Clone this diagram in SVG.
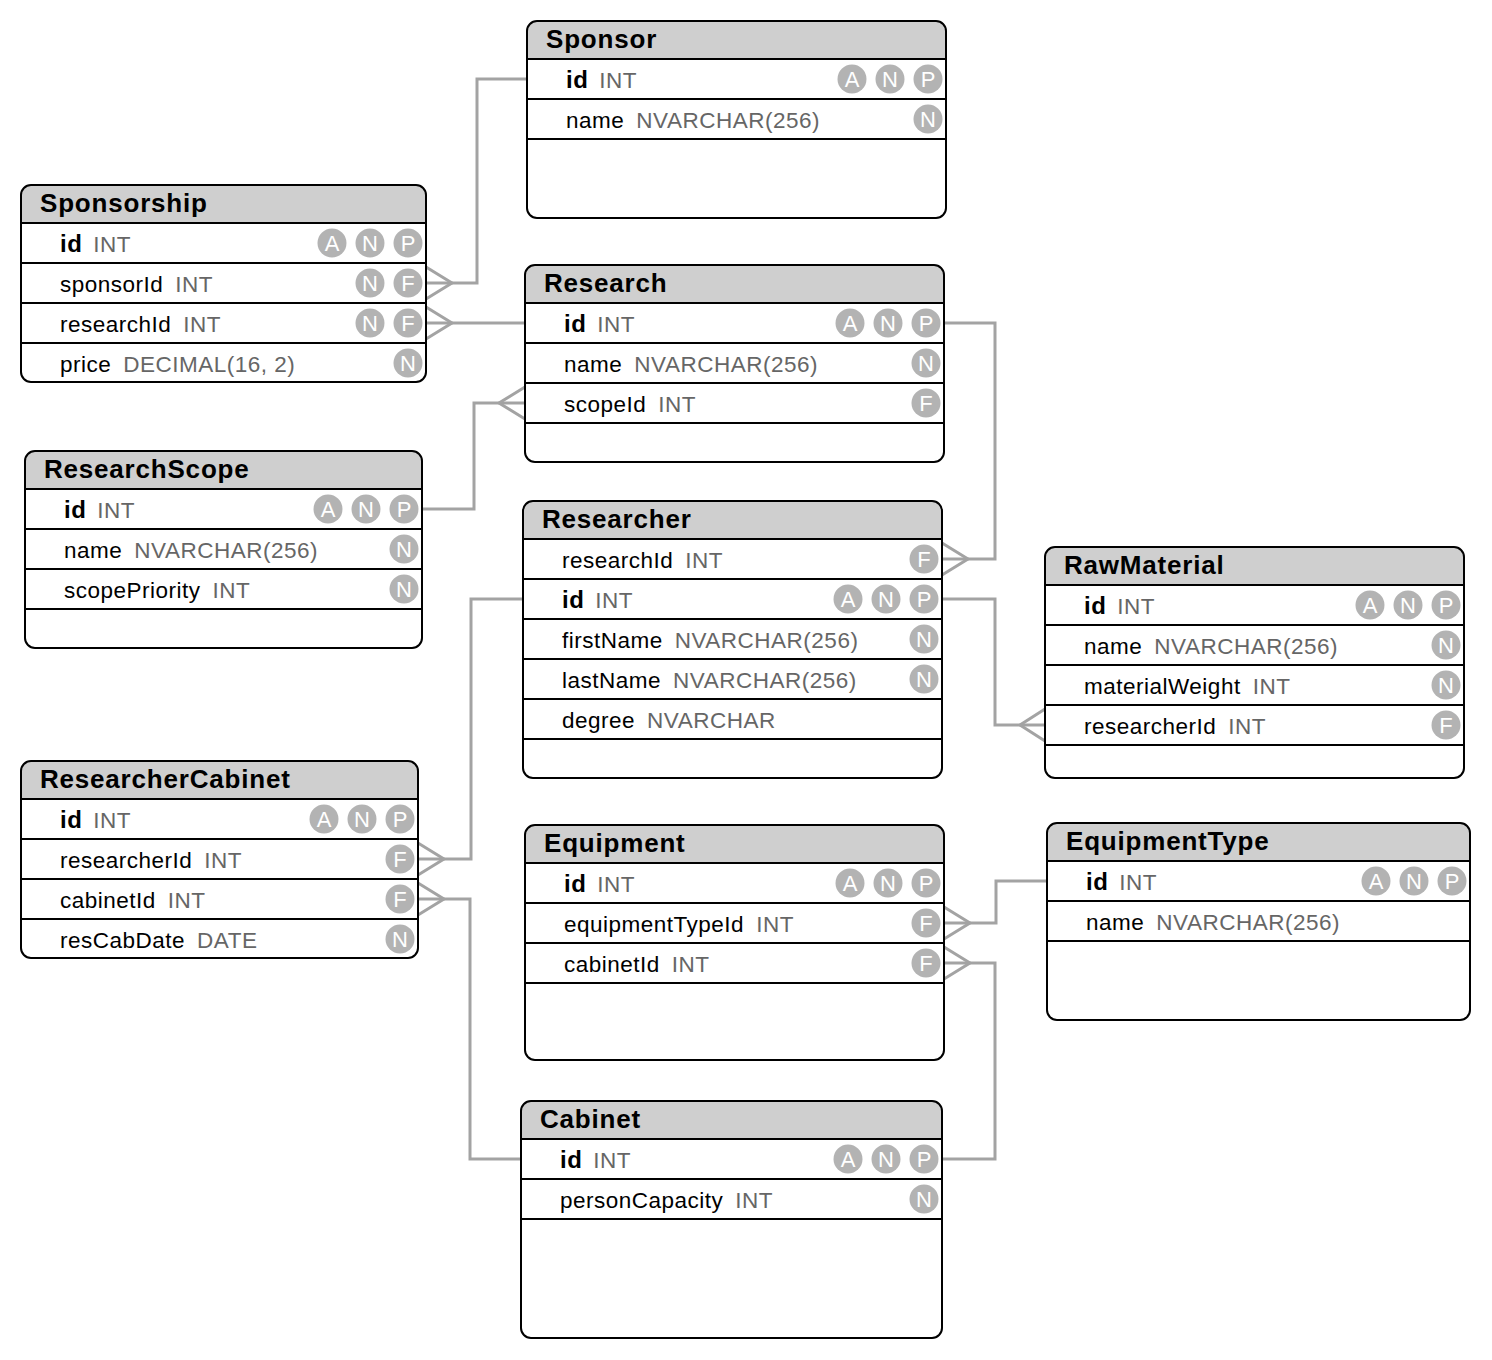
<svg xmlns="http://www.w3.org/2000/svg" width="1492" height="1360" viewBox="0 0 1492 1360">
  <defs>
    <style>
      .frame { fill: none; stroke: #000; stroke-width: 2; }
      .head { fill: #cfcfcf; }
      .sep { stroke: #000; stroke-width: 2; }
      .title { font-family: "Liberation Sans", Arial, sans-serif; font-weight: bold; font-size: 26px; letter-spacing: 0.8px; fill: #000; }
      .row { font-family: "Liberation Sans", Arial, sans-serif; font-size: 22.5px; letter-spacing: 0.5px; fill: #000; }
      .pk { font-weight: bold; font-size: 24px; }
      .type { fill: #666; }
      .badge circle { fill: #b3b3b3; }
      .badge text { font-family: "Liberation Sans", Arial, sans-serif; font-size: 22px; fill: #fff; text-anchor: middle; }
      .link { fill: none; stroke: #a3a3a3; stroke-width: 3; }
    </style>
    <g id="bA" class="badge"><circle r="14.5"/><text y="8">A</text></g>
    <g id="bN" class="badge"><circle r="14.5"/><text y="8">N</text></g>
    <g id="bP" class="badge"><circle r="14.5"/><text y="8">P</text></g>
    <g id="bF" class="badge"><circle r="14.5"/><text y="8">F</text></g>
  </defs>
  <rect width="1492" height="1360" fill="#fff"/>

  <!-- relationships -->
  <g id="connectors" class="link">
    <polyline points="527,79 477,79 477,283 426,283"/>
    <path d="M426,267 L452,283 L426,299"/>
    <polyline points="525,323 426,323"/>
    <path d="M426,307 L452,323 L426,339"/>
    <polyline points="422,509 474,509 474,403 525,403"/>
    <path d="M525,387 L499,403 L525,419"/>
    <polyline points="944,323 995,323 995,559 942,559"/>
    <path d="M942,543 L968,559 L942,575"/>
    <polyline points="942,599 995,599 995,725 1045,725"/>
    <path d="M1045,709 L1020,725 L1045,741"/>
    <polyline points="523,599 471,599 471,859 418,859"/>
    <path d="M418,843 L444,859 L418,875"/>
    <polyline points="521,1159 470,1159 470,899 418,899"/>
    <path d="M418,883 L444,899 L418,915"/>
    <polyline points="942,1159 995,1159 995,963 944,963"/>
    <path d="M944,947 L970,963 L944,979"/>
    <polyline points="1047,881 996,881 996,923 944,923"/>
    <path d="M944,907 L970,923 L944,939"/>
  </g>

  <!-- Sponsor -->
  <g id="Sponsor">
    <rect x="527" y="21" width="419" height="197" rx="10" fill="#fff"/>
    <path class="head" d="M527,59 V31 Q527,21 537,21 H936 Q946,21 946,31 V59 Z"/>
    <line class="sep" x1="527" y1="59" x2="946" y2="59"/>
    <line class="sep" x1="527" y1="99" x2="946" y2="99"/>
    <line class="sep" x1="527" y1="139" x2="946" y2="139"/>
    <rect class="frame" x="527" y="21" width="419" height="197" rx="10"/>
    <text class="title" x="546" y="48">Sponsor</text>
    <text class="row" x="566" y="88"><tspan class="pk">id</tspan><tspan class="type" dx="11">INT</tspan></text>
    <text class="row" x="566" y="128">name<tspan class="type" dx="12">NVARCHAR(256)</tspan></text>
    <use href="#bA" x="852" y="79"/><use href="#bN" x="890" y="79"/><use href="#bP" x="928" y="79"/>
    <use href="#bN" x="928" y="119"/>
  </g>

  <!-- Sponsorship -->
  <g id="Sponsorship">
    <rect x="21" y="185" width="405" height="197" rx="10" fill="#fff"/>
    <path class="head" d="M21,223 V195 Q21,185 31,185 H416 Q426,185 426,195 V223 Z"/>
    <line class="sep" x1="21" y1="223" x2="426" y2="223"/>
    <line class="sep" x1="21" y1="263" x2="426" y2="263"/>
    <line class="sep" x1="21" y1="303" x2="426" y2="303"/>
    <line class="sep" x1="21" y1="343" x2="426" y2="343"/>
    <rect class="frame" x="21" y="185" width="405" height="197" rx="10"/>
    <text class="title" x="40" y="212">Sponsorship</text>
    <text class="row" x="60" y="252"><tspan class="pk">id</tspan><tspan class="type" dx="11">INT</tspan></text>
    <text class="row" x="60" y="292">sponsorId<tspan class="type" dx="12">INT</tspan></text>
    <text class="row" x="60" y="332">researchId<tspan class="type" dx="12">INT</tspan></text>
    <text class="row" x="60" y="372">price<tspan class="type" dx="12">DECIMAL(16, 2)</tspan></text>
    <use href="#bA" x="332" y="243"/><use href="#bN" x="370" y="243"/><use href="#bP" x="408" y="243"/>
    <use href="#bN" x="370" y="283"/><use href="#bF" x="408" y="283"/>
    <use href="#bN" x="370" y="323"/><use href="#bF" x="408" y="323"/>
    <use href="#bN" x="408" y="363"/>
  </g>

  <!-- Research -->
  <g id="Research">
    <rect x="525" y="265" width="419" height="197" rx="10" fill="#fff"/>
    <path class="head" d="M525,303 V275 Q525,265 535,265 H934 Q944,265 944,275 V303 Z"/>
    <line class="sep" x1="525" y1="303" x2="944" y2="303"/>
    <line class="sep" x1="525" y1="343" x2="944" y2="343"/>
    <line class="sep" x1="525" y1="383" x2="944" y2="383"/>
    <line class="sep" x1="525" y1="423" x2="944" y2="423"/>
    <rect class="frame" x="525" y="265" width="419" height="197" rx="10"/>
    <text class="title" x="544" y="292">Research</text>
    <text class="row" x="564" y="332"><tspan class="pk">id</tspan><tspan class="type" dx="11">INT</tspan></text>
    <text class="row" x="564" y="372">name<tspan class="type" dx="12">NVARCHAR(256)</tspan></text>
    <text class="row" x="564" y="412">scopeId<tspan class="type" dx="12">INT</tspan></text>
    <use href="#bA" x="850" y="323"/><use href="#bN" x="888" y="323"/><use href="#bP" x="926" y="323"/>
    <use href="#bN" x="926" y="363"/>
    <use href="#bF" x="926" y="403"/>
  </g>

  <!-- ResearchScope -->
  <g id="ResearchScope">
    <rect x="25" y="451" width="397" height="197" rx="10" fill="#fff"/>
    <path class="head" d="M25,489 V461 Q25,451 35,451 H412 Q422,451 422,461 V489 Z"/>
    <line class="sep" x1="25" y1="489" x2="422" y2="489"/>
    <line class="sep" x1="25" y1="529" x2="422" y2="529"/>
    <line class="sep" x1="25" y1="569" x2="422" y2="569"/>
    <line class="sep" x1="25" y1="609" x2="422" y2="609"/>
    <rect class="frame" x="25" y="451" width="397" height="197" rx="10"/>
    <text class="title" x="44" y="478">ResearchScope</text>
    <text class="row" x="64" y="518"><tspan class="pk">id</tspan><tspan class="type" dx="11">INT</tspan></text>
    <text class="row" x="64" y="558">name<tspan class="type" dx="12">NVARCHAR(256)</tspan></text>
    <text class="row" x="64" y="598">scopePriority<tspan class="type" dx="12">INT</tspan></text>
    <use href="#bA" x="328" y="509"/><use href="#bN" x="366" y="509"/><use href="#bP" x="404" y="509"/>
    <use href="#bN" x="404" y="549"/>
    <use href="#bN" x="404" y="589"/>
  </g>

  <!-- Researcher -->
  <g id="Researcher">
    <rect x="523" y="501" width="419" height="277" rx="10" fill="#fff"/>
    <path class="head" d="M523,539 V511 Q523,501 533,501 H932 Q942,501 942,511 V539 Z"/>
    <line class="sep" x1="523" y1="539" x2="942" y2="539"/>
    <line class="sep" x1="523" y1="579" x2="942" y2="579"/>
    <line class="sep" x1="523" y1="619" x2="942" y2="619"/>
    <line class="sep" x1="523" y1="659" x2="942" y2="659"/>
    <line class="sep" x1="523" y1="699" x2="942" y2="699"/>
    <line class="sep" x1="523" y1="739" x2="942" y2="739"/>
    <rect class="frame" x="523" y="501" width="419" height="277" rx="10"/>
    <text class="title" x="542" y="528">Researcher</text>
    <text class="row" x="562" y="568">researchId<tspan class="type" dx="12">INT</tspan></text>
    <text class="row" x="562" y="608"><tspan class="pk">id</tspan><tspan class="type" dx="11">INT</tspan></text>
    <text class="row" x="562" y="648">firstName<tspan class="type" dx="12">NVARCHAR(256)</tspan></text>
    <text class="row" x="562" y="688">lastName<tspan class="type" dx="12">NVARCHAR(256)</tspan></text>
    <text class="row" x="562" y="728">degree<tspan class="type" dx="12">NVARCHAR</tspan></text>
    <use href="#bF" x="924" y="559"/>
    <use href="#bA" x="848" y="599"/><use href="#bN" x="886" y="599"/><use href="#bP" x="924" y="599"/>
    <use href="#bN" x="924" y="639"/>
    <use href="#bN" x="924" y="679"/>
  </g>

  <!-- RawMaterial -->
  <g id="RawMaterial">
    <rect x="1045" y="547" width="419" height="231" rx="10" fill="#fff"/>
    <path class="head" d="M1045,585 V557 Q1045,547 1055,547 H1454 Q1464,547 1464,557 V585 Z"/>
    <line class="sep" x1="1045" y1="585" x2="1464" y2="585"/>
    <line class="sep" x1="1045" y1="625" x2="1464" y2="625"/>
    <line class="sep" x1="1045" y1="665" x2="1464" y2="665"/>
    <line class="sep" x1="1045" y1="705" x2="1464" y2="705"/>
    <line class="sep" x1="1045" y1="745" x2="1464" y2="745"/>
    <rect class="frame" x="1045" y="547" width="419" height="231" rx="10"/>
    <text class="title" x="1064" y="574">RawMaterial</text>
    <text class="row" x="1084" y="614"><tspan class="pk">id</tspan><tspan class="type" dx="11">INT</tspan></text>
    <text class="row" x="1084" y="654">name<tspan class="type" dx="12">NVARCHAR(256)</tspan></text>
    <text class="row" x="1084" y="694">materialWeight<tspan class="type" dx="12">INT</tspan></text>
    <text class="row" x="1084" y="734">researcherId<tspan class="type" dx="12">INT</tspan></text>
    <use href="#bA" x="1370" y="605"/><use href="#bN" x="1408" y="605"/><use href="#bP" x="1446" y="605"/>
    <use href="#bN" x="1446" y="645"/>
    <use href="#bN" x="1446" y="685"/>
    <use href="#bF" x="1446" y="725"/>
  </g>

  <!-- ResearcherCabinet -->
  <g id="ResearcherCabinet">
    <rect x="21" y="761" width="397" height="197" rx="10" fill="#fff"/>
    <path class="head" d="M21,799 V771 Q21,761 31,761 H408 Q418,761 418,771 V799 Z"/>
    <line class="sep" x1="21" y1="799" x2="418" y2="799"/>
    <line class="sep" x1="21" y1="839" x2="418" y2="839"/>
    <line class="sep" x1="21" y1="879" x2="418" y2="879"/>
    <line class="sep" x1="21" y1="919" x2="418" y2="919"/>
    <rect class="frame" x="21" y="761" width="397" height="197" rx="10"/>
    <text class="title" x="40" y="788">ResearcherCabinet</text>
    <text class="row" x="60" y="828"><tspan class="pk">id</tspan><tspan class="type" dx="11">INT</tspan></text>
    <text class="row" x="60" y="868">researcherId<tspan class="type" dx="12">INT</tspan></text>
    <text class="row" x="60" y="908">cabinetId<tspan class="type" dx="12">INT</tspan></text>
    <text class="row" x="60" y="948">resCabDate<tspan class="type" dx="12">DATE</tspan></text>
    <use href="#bA" x="324" y="819"/><use href="#bN" x="362" y="819"/><use href="#bP" x="400" y="819"/>
    <use href="#bF" x="400" y="859"/>
    <use href="#bF" x="400" y="899"/>
    <use href="#bN" x="400" y="939"/>
  </g>

  <!-- Equipment -->
  <g id="Equipment">
    <rect x="525" y="825" width="419" height="235" rx="10" fill="#fff"/>
    <path class="head" d="M525,863 V835 Q525,825 535,825 H934 Q944,825 944,835 V863 Z"/>
    <line class="sep" x1="525" y1="863" x2="944" y2="863"/>
    <line class="sep" x1="525" y1="903" x2="944" y2="903"/>
    <line class="sep" x1="525" y1="943" x2="944" y2="943"/>
    <line class="sep" x1="525" y1="983" x2="944" y2="983"/>
    <rect class="frame" x="525" y="825" width="419" height="235" rx="10"/>
    <text class="title" x="544" y="852">Equipment</text>
    <text class="row" x="564" y="892"><tspan class="pk">id</tspan><tspan class="type" dx="11">INT</tspan></text>
    <text class="row" x="564" y="932">equipmentTypeId<tspan class="type" dx="12">INT</tspan></text>
    <text class="row" x="564" y="972">cabinetId<tspan class="type" dx="12">INT</tspan></text>
    <use href="#bA" x="850" y="883"/><use href="#bN" x="888" y="883"/><use href="#bP" x="926" y="883"/>
    <use href="#bF" x="926" y="923"/>
    <use href="#bF" x="926" y="963"/>
  </g>

  <!-- EquipmentType -->
  <g id="EquipmentType">
    <rect x="1047" y="823" width="423" height="197" rx="10" fill="#fff"/>
    <path class="head" d="M1047,861 V833 Q1047,823 1057,823 H1460 Q1470,823 1470,833 V861 Z"/>
    <line class="sep" x1="1047" y1="861" x2="1470" y2="861"/>
    <line class="sep" x1="1047" y1="901" x2="1470" y2="901"/>
    <line class="sep" x1="1047" y1="941" x2="1470" y2="941"/>
    <rect class="frame" x="1047" y="823" width="423" height="197" rx="10"/>
    <text class="title" x="1066" y="850">EquipmentType</text>
    <text class="row" x="1086" y="890"><tspan class="pk">id</tspan><tspan class="type" dx="11">INT</tspan></text>
    <text class="row" x="1086" y="930">name<tspan class="type" dx="12">NVARCHAR(256)</tspan></text>
    <use href="#bA" x="1376" y="881"/><use href="#bN" x="1414" y="881"/><use href="#bP" x="1452" y="881"/>
  </g>

  <!-- Cabinet -->
  <g id="Cabinet">
    <rect x="521" y="1101" width="421" height="237" rx="10" fill="#fff"/>
    <path class="head" d="M521,1139 V1111 Q521,1101 531,1101 H932 Q942,1101 942,1111 V1139 Z"/>
    <line class="sep" x1="521" y1="1139" x2="942" y2="1139"/>
    <line class="sep" x1="521" y1="1179" x2="942" y2="1179"/>
    <line class="sep" x1="521" y1="1219" x2="942" y2="1219"/>
    <rect class="frame" x="521" y="1101" width="421" height="237" rx="10"/>
    <text class="title" x="540" y="1128">Cabinet</text>
    <text class="row" x="560" y="1168"><tspan class="pk">id</tspan><tspan class="type" dx="11">INT</tspan></text>
    <text class="row" x="560" y="1208">personCapacity<tspan class="type" dx="12">INT</tspan></text>
    <use href="#bA" x="848" y="1159"/><use href="#bN" x="886" y="1159"/><use href="#bP" x="924" y="1159"/>
    <use href="#bN" x="924" y="1199"/>
  </g>
</svg>
